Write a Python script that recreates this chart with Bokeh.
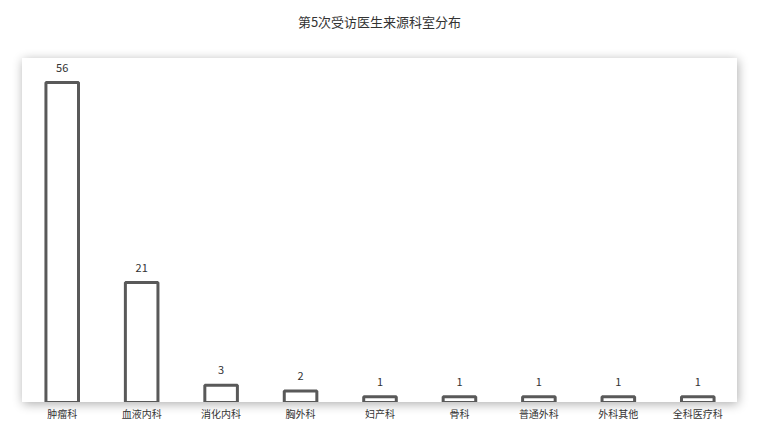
from bokeh.plotting import figure
from bokeh.models import ColumnDataSource, LabelSet, Range1d, FactorRange, Div
from bokeh.layouts import column
from bokeh.core.properties import value
from bokeh.embed import file_html
from bokeh.resources import INLINE

title_text = "第5次受访医生来源科室分布"
categories = ["肿瘤科", "血液内科", "消化内科", "胸外科", "妇产科", "骨科", "普通外科", "外科其他", "全科医疗科"]
counts = [56, 21, 3, 2, 1, 1, 1, 1, 1]

FONT = "Noto Sans CJK SC"
BOX_W, BOX_H = 715, 344
LEFT = 22
TOP = 58

src = ColumnDataSource(dict(cat=categories, val=counts, lab=[str(v) for v in counts]))
xr = FactorRange(factors=categories)

# title
title = Div(text=(f'<div style="width:{BOX_W}px;text-align:center;padding-top:12px;'
                  f'line-height:20px;">{title_text}</div>'),
            width=BOX_W, height=TOP, margin=(0, 0, 0, LEFT),
            styles={"font-family": FONT, "font-size": "13px", "color": "#333333",
                    "text-align": "center"})

# main box with shadow
p = figure(x_range=xr, y_range=Range1d(0, 60.2), width=BOX_W, height=BOX_H,
           output_backend="svg", toolbar_location=None, tools="",
           min_border=0, margin=(0, 0, 0, LEFT))
p.styles = {"box-shadow": "1px 2px 10px rgba(0,0,0,0.32)"}
p.outline_line_color = None
p.background_fill_color = "white"
p.border_fill_color = "white"
p.xgrid.visible = False
p.ygrid.visible = False
p.xaxis.visible = False
p.yaxis.visible = False

p.vbar(x="cat", top="val", width=0.41, source=src, fill_color="white",
       line_color="#595959", line_width=3)

labels = LabelSet(x="cat", y="val", text="lab", source=src, y_offset=15,
                  text_align="center", text_baseline="middle", text_font=value(FONT),
                  text_font_size="11px", text_line_height=1.0, text_color="#333333")
p.add_layout(labels)

# category axis below the box
ax = figure(x_range=xr, y_range=Range1d(0, 1), width=BOX_W, height=24,
            output_backend="svg", toolbar_location=None, tools="",
            min_border_top=0, min_border_left=0, min_border_right=0, min_border_bottom=20,
            margin=(0, 0, 0, LEFT))
ax.outline_line_color = None
ax.background_fill_alpha = 0
ax.border_fill_alpha = 0
ax.xgrid.visible = False
ax.ygrid.visible = False
ax.yaxis.visible = False
ax.xaxis.axis_line_color = None
ax.xaxis.major_tick_line_color = None
ax.xaxis.minor_tick_line_color = None
ax.xaxis.major_label_text_font = FONT
ax.xaxis.major_label_text_font_size = "10px"
ax.xaxis.major_label_text_color = "#333333"
ax.xaxis.major_label_standoff = -7

layout = column(title, p, ax, spacing=0)

open("out.html", "w").write(file_html(layout, INLINE))
